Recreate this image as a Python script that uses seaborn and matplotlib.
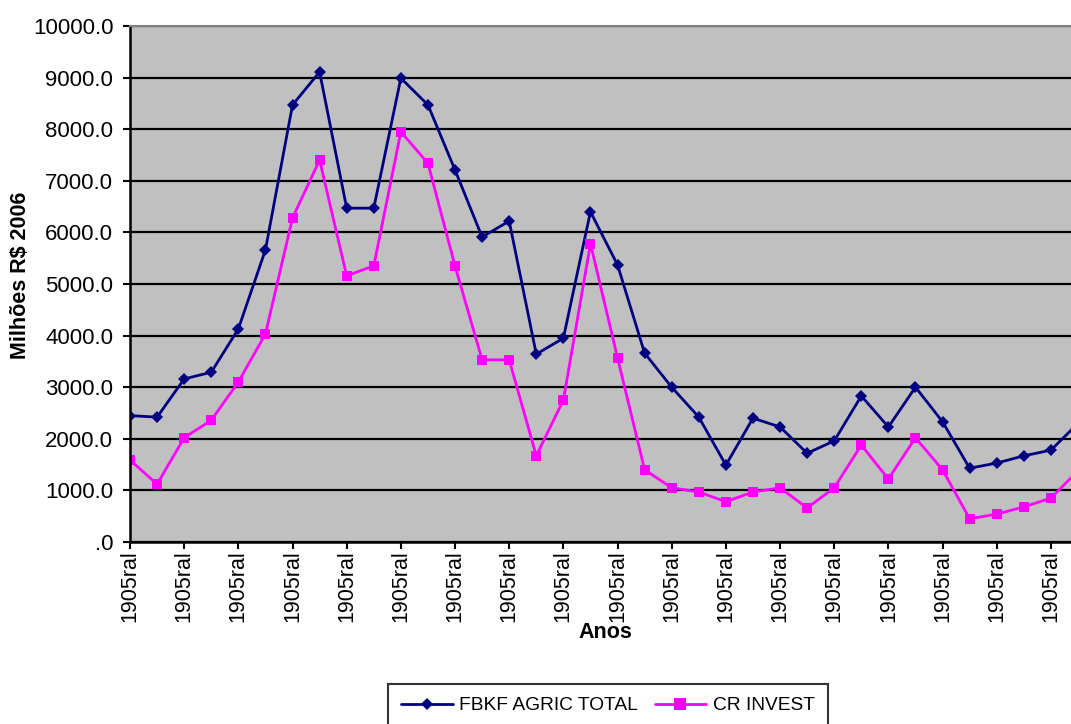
"""FBKF agricola total vs credito rural de investimento."""
import numpy as np
import pandas as pd
import matplotlib
matplotlib.use('Agg')
import matplotlib.pyplot as plt
import seaborn as sns

# values (milhoes R$ 2006), one per year
fbkf_total = [2450, 2420, 3160, 3290, 4130, 5660, 8470, 9110, 6470, 6470,
              8990, 8470, 7210, 5910, 6220, 3640, 3950, 6400, 5370, 3660,
              3000, 2420, 1490, 2400, 2230, 1720, 1960, 2830, 2230, 3000,
              2330, 1430, 1530, 1670, 1780, 2300]
cr_invest = [1590, 1120, 2020, 2360, 3100, 4030, 6280, 7400, 5160, 5350,
             7950, 7340, 5350, 3530, 3530, 1670, 2750, 5780, 3570, 1400,
             1050, 970, 780, 970, 1050, 660, 1050, 1880, 1220, 2020,
             1400, 450, 540, 680, 850, 1380]
year_labels = ['1905ral'] * len(fbkf_total)
series_names = ['FBKF AGRIC TOTAL', 'CR INVEST']

idx = np.arange(len(fbkf_total))
df = pd.DataFrame({
    'ano': np.concatenate([idx, idx]),
    'valor': fbkf_total + cr_invest,
    'serie': [series_names[0]] * len(idx) + [series_names[1]] * len(idx),
})

sns.set_style('white')
plt.rcParams['font.family'] = ['Liberation Sans', 'DejaVu Sans']
plt.rcParams['text.color'] = 'black'
plt.rcParams['axes.labelcolor'] = 'black'
plt.rcParams['xtick.color'] = 'black'
plt.rcParams['ytick.color'] = 'black'

fig = plt.figure(figsize=(10.71, 7.24), dpi=100)
ax = fig.add_axes([130 / 1071, 182 / 724, 948 / 1071, 516 / 724])
ax.set_facecolor('#C0C0C0')

sns.lineplot(data=df, x='ano', y='valor', hue='serie', style='serie',
             palette=['#000080', '#FF00FF'], markers=['D', 's'],
             dashes=False, markersize=7, linewidth=2,
             markeredgewidth=0, ax=ax, legend=False)
# diamonds a bit smaller than squares
ax.lines[0].set_markersize(6)

ax.set_xlim(0, len(idx) - 1)
ax.set_ylim(0, 10000)
ax.set_yticks(np.arange(0, 10001, 1000))
ax.set_yticklabels(['.0' if v == 0 else '%.1f' % v
                    for v in np.arange(0, 10001, 1000)])
ax.set_xticks(idx[::2])
ax.set_xticklabels(year_labels[::2], rotation=90)
ax.tick_params(axis='both', direction='out', length=5, width=1.5,
               color='black', labelsize=16, bottom=True, left=True)
ax.tick_params(axis='y', pad=7)
ax.tick_params(axis='x', pad=1, labelsize=15.5)
ax.yaxis.grid(True, color='black', linewidth=1.6)
ax.set_axisbelow(True)
for side in ['left', 'bottom']:
    ax.spines[side].set_color('black')
    ax.spines[side].set_linewidth(1.8)
ax.spines['top'].set_color('#808080')
ax.spines['top'].set_linewidth(1.5)
ax.spines['right'].set_visible(False)

ax.set_xlabel('Anos', fontsize=15.5, fontweight='bold')
ax.set_ylabel('Milhões R$ 2006', fontsize=15.5, fontweight='bold')
ax.xaxis.set_label_coords(0.501, -0.155)
ax.yaxis.set_label_coords(-0.104, 0.517)

handles = [plt.Line2D([], [], color='#000080', marker='D', markersize=6,
                      linewidth=2, markeredgewidth=0),
           plt.Line2D([], [], color='#FF00FF', marker='s', markersize=8,
                      linewidth=2, markeredgewidth=0)]
leg = fig.legend(handles, series_names, loc='upper left',
                 bbox_to_anchor=(378 / 1071, 1 - 674 / 724), ncol=2,
                 fontsize=13.8, frameon=True, fancybox=False,
                 handlelength=2.7, columnspacing=0.85, handletextpad=0.35,
                 borderpad=0.7)
leg.get_frame().set_edgecolor('black')
leg.get_frame().set_linewidth(1.5)

fig.savefig('out.png', dpi=100)
